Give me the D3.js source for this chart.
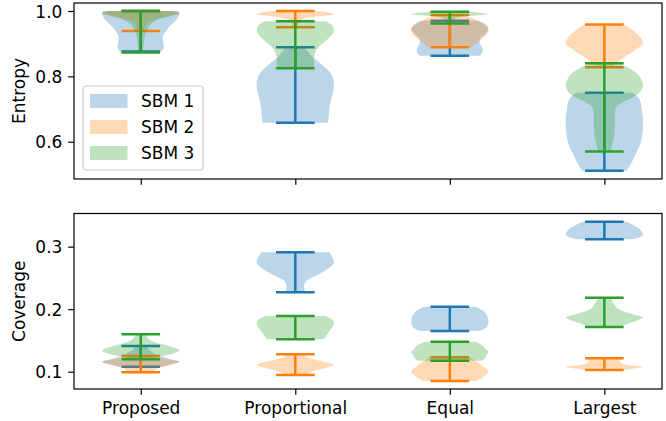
<!DOCTYPE html>
<html><head><meta charset="utf-8">
<script src="https://cdn.jsdelivr.net/npm/d3@7"></script>
<style>
body{margin:0;background:#fff}
svg{display:block}
text{font-family:"DejaVu Sans",sans-serif;fill:#000}
</style>
</head><body>
<svg id="chart" width="666" height="421"></svg>
<script>
// Methods on the x axis, series in the legend
const categories = ["Proposed", "Proportional", "Equal", "Largest"];
const seriesNames = ["SBM 1", "SBM 2", "SBM 3"];
const seriesColors = ["#1f77b4", "#ff7f0e", "#2ca02c"];
const entropyTicks = [0.6, 0.8, 1.0];
const coverageTicks = [0.1, 0.2, 0.3];

// Violin profiles: for each method, [value, relative density] from max down to min.
// The first and last values are the extrema drawn as bars.
const entropySbm1 = [
  [[1.0,0.98],[0.991,1],[0.972,0.91],[0.957,0.78],[0.942,0.67],[0.92,0.57],[0.89,0.6],[0.876,0.54]],
  [[0.889,0.23],[0.875,0.34],[0.86,0.44],[0.845,0.6],[0.83,0.75],[0.815,0.88],[0.8,0.96],[0.78,1],[0.76,0.99],[0.74,0.95],[0.72,0.91],[0.70,0.88],[0.68,0.87],[0.658,0.85]],
  [[0.970,0.73],[0.96,0.91],[0.945,1],[0.93,0.91],[0.915,0.78],[0.90,0.78],[0.885,0.85],[0.875,0.85],[0.863,0.78]],
  [[0.75,0.73],[0.73,0.91],[0.70,0.97],[0.66,1],[0.62,0.98],[0.59,0.92],[0.56,0.8],[0.535,0.7],[0.511,0.57]]
];
const entropySbm2 = [
  [[1.0,0.88],[0.993,1],[0.985,0.73],[0.975,0.36],[0.965,0.18],[0.95,0.1],[0.939,0.08]],
  [[1.0,0.57],[0.994,0.93],[0.99,1],[0.986,0.78],[0.982,0.47],[0.975,0.18],[0.965,0.1],[0.95,0.08]],
  [[0.988,0.31],[0.975,0.65],[0.96,0.85],[0.945,1],[0.93,0.96],[0.915,0.83],[0.90,0.67],[0.889,0.57]],
  [[0.959,0.52],[0.945,0.7],[0.93,0.85],[0.915,0.96],[0.90,1],[0.885,0.85],[0.87,0.67],[0.855,0.47],[0.84,0.28],[0.828,0.21]]
];
const entropySbm3 = [
  [[1.0,0.78],[0.993,1],[0.985,0.78],[0.975,0.47],[0.96,0.26],[0.94,0.16],[0.92,0.1],[0.9,0.08],[0.873,0.05]],
  [[0.969,0.8],[0.955,0.96],[0.94,1],[0.925,0.93],[0.91,0.8],[0.895,0.65],[0.88,0.54],[0.86,0.49],[0.84,0.48],[0.825,0.47]],
  [[0.998,0.52],[0.991,1],[0.985,0.52],[0.98,0.21],[0.97,0.1],[0.962,0.08]],
  [[0.84,0.36],[0.825,0.65],[0.81,0.83],[0.79,0.96],[0.77,1],[0.75,0.91],[0.735,0.73],[0.72,0.47],[0.705,0.31],[0.68,0.27],[0.65,0.27],[0.62,0.26],[0.6,0.22],[0.585,0.19],[0.57,0.16]]
];
const coverageSbm1 = [
  [[0.141,0.16],[0.135,0.21],[0.128,0.39],[0.12,0.78],[0.116,1],[0.112,0.78],[0.108,0.57]],
  [[0.291,0.88],[0.283,0.96],[0.274,1],[0.265,0.85],[0.257,0.65],[0.25,0.41],[0.245,0.28],[0.238,0.23],[0.233,0.23],[0.227,0.26]],
  [[0.204,0.65],[0.198,0.85],[0.19,0.96],[0.18,1],[0.172,0.96],[0.167,0.85],[0.165,0.73]],
  [[0.34,0.57],[0.335,0.73],[0.327,0.93],[0.319,1],[0.315,0.91],[0.3118,0.73]]
];
const coverageSbm2 = [
  [[0.125,0.26],[0.12,0.65],[0.116,1],[0.112,0.85],[0.108,0.57],[0.104,0.39],[0.099,0.31]],
  [[0.128,0.18],[0.122,0.36],[0.117,0.65],[0.111,1],[0.106,0.78],[0.102,0.52],[0.098,0.34],[0.0947,0.26]],
  [[0.123,0.52],[0.118,0.65],[0.11,0.83],[0.104,0.96],[0.1,1],[0.095,0.93],[0.09,0.83],[0.0851,0.67]],
  [[0.1214,0.47],[0.117,0.39],[0.112,0.52],[0.108,1],[0.105,0.73],[0.1027,0.47]]
];
const coverageSbm3 = [
  [[0.160,0.13],[0.152,0.21],[0.145,0.47],[0.14,0.78],[0.134,1],[0.128,0.78],[0.123,0.39],[0.12,0.26]],
  [[0.189,0.78],[0.183,0.96],[0.177,1],[0.167,0.91],[0.156,0.78],[0.152,0.73]],
  [[0.148,0.65],[0.142,0.85],[0.136,0.93],[0.132,1],[0.128,0.96],[0.122,0.91],[0.1176,0.83]],
  [[0.2184,0.16],[0.21,0.23],[0.203,0.31],[0.198,0.44],[0.192,0.73],[0.187,1],[0.182,0.85],[0.177,0.62],[0.1715,0.39]]
];

const svg = d3.select("#chart");
const fontSize = 17;
const plotLeft = 74, plotRight = 662;
const violinWidth = 0.5;       // full width of a violin, in category units
const tickLen = 5.8, tickPad = 5.8;

const x = d3.scaleLinear().domain([0.568, 4.373]).range([plotLeft, plotRight]);
const positions = categories.map((c, i) => i + 1);

const panels = [
  { top: 3, bottom: 179, domain: [0.486, 1.0245], ticks: entropyTicks, label: "Entropy",
    series: [entropySbm1, entropySbm2, entropySbm3], xLabels: false, legend: true },
  { top: 213.5, bottom: 389, domain: [0.0723, 0.353], ticks: coverageTicks, label: "Coverage",
    series: [coverageSbm1, coverageSbm2, coverageSbm3], xLabels: true, legend: false }
];

panels.forEach(p => {
  const y = d3.scaleLinear().domain(p.domain).range([p.bottom, p.top]);
  const g = svg.append("g");
  const clipId = "clip-" + p.label;
  svg.append("clipPath").attr("id", clipId).append("rect")
    .attr("x", plotLeft).attr("y", p.top).attr("width", plotRight - plotLeft).attr("height", p.bottom - p.top);
  const plot = g.append("g").attr("clip-path", `url(#${clipId})`);

  const half = x(1 + violinWidth / 2) - x(1);

  p.series.forEach((profiles, si) => {
    const color = seriesColors[si];
    // bodies
    profiles.forEach((prof, ci) => {
      const cx = x(positions[ci]);
      const area = d3.area()
        .curve(d3.curveCatmullRom.alpha(0.5))
        .y(d => y(d[0]))
        .x0(d => cx - d[1] * half)
        .x1(d => cx + d[1] * half);
      plot.append("path").attr("d", area(prof))
        .attr("fill", color).attr("fill-opacity", 0.3).attr("stroke", "none");
    });
    // extrema bars and the connecting line
    profiles.forEach((prof, ci) => {
      const cx = x(positions[ci]);
      const [lo, hi] = d3.extent(prof, d => d[0]);
      const bar = half * 0.5;
      [hi, lo].forEach(v => {
        plot.append("line")
          .attr("x1", cx - bar).attr("x2", cx + bar)
          .attr("y1", y(v)).attr("y2", y(v))
          .attr("stroke", color).attr("stroke-width", 2.5);
      });
      plot.append("line")
        .attr("x1", cx).attr("x2", cx)
        .attr("y1", y(hi)).attr("y2", y(lo))
        .attr("stroke", color).attr("stroke-width", 2.5);
    });
  });

  // y axis
  const ya = g.append("g").attr("transform", `translate(${plotLeft},0)`)
    .call(d3.axisLeft(y).tickValues(p.ticks).tickSize(tickLen).tickPadding(tickPad).tickFormat(d3.format(".1f")));
  ya.select(".domain").remove();
  ya.selectAll("line").attr("stroke", "#000").attr("stroke-width", 1.2);
  ya.selectAll("text").attr("font-size", fontSize).attr("font-family", "DejaVu Sans").attr("dy", "0.36em");

  // x axis
  const xa = g.append("g").attr("transform", `translate(0,${p.bottom})`)
    .call(d3.axisBottom(x).tickValues(positions).tickSize(tickLen).tickPadding(tickPad)
      .tickFormat((d, i) => p.xLabels ? categories[i] : ""));
  xa.select(".domain").remove();
  xa.selectAll("line").attr("stroke", "#000").attr("stroke-width", 1.2);
  xa.selectAll("text").attr("font-size", fontSize).attr("font-family", "DejaVu Sans").attr("dy", "0.78em");

  // frame
  g.append("rect").attr("x", plotLeft).attr("y", p.top)
    .attr("width", plotRight - plotLeft).attr("height", p.bottom - p.top)
    .attr("fill", "none").attr("stroke", "#000").attr("stroke-width", 1.2);

  // y label
  g.append("text")
    .attr("transform", `translate(18.5,${(p.top + p.bottom) / 2}) rotate(-90)`)
    .attr("text-anchor", "middle").attr("dominant-baseline", "central")
    .attr("font-size", fontSize).text(p.label);

  if (p.legend) {
    const lg = g.append("g").attr("transform", "translate(83,86)");
    lg.append("rect").attr("width", 120).attr("height", 84).attr("rx", 3)
      .attr("fill", "#fff").attr("fill-opacity", 0.8)
      .attr("stroke", "#ccc").attr("stroke-width", 1.2);
    seriesNames.forEach((name, i) => {
      const cy = 15 + i * 26;
      lg.append("rect").attr("x", 7).attr("y", cy - 7).attr("width", 37.5).attr("height", 14)
        .attr("fill", seriesColors[i]).attr("fill-opacity", 0.3);
      lg.append("text").attr("x", 58).attr("y", cy + 6).attr("font-size", fontSize).text(name);
    });
  }
});
</script>
</body></html>
